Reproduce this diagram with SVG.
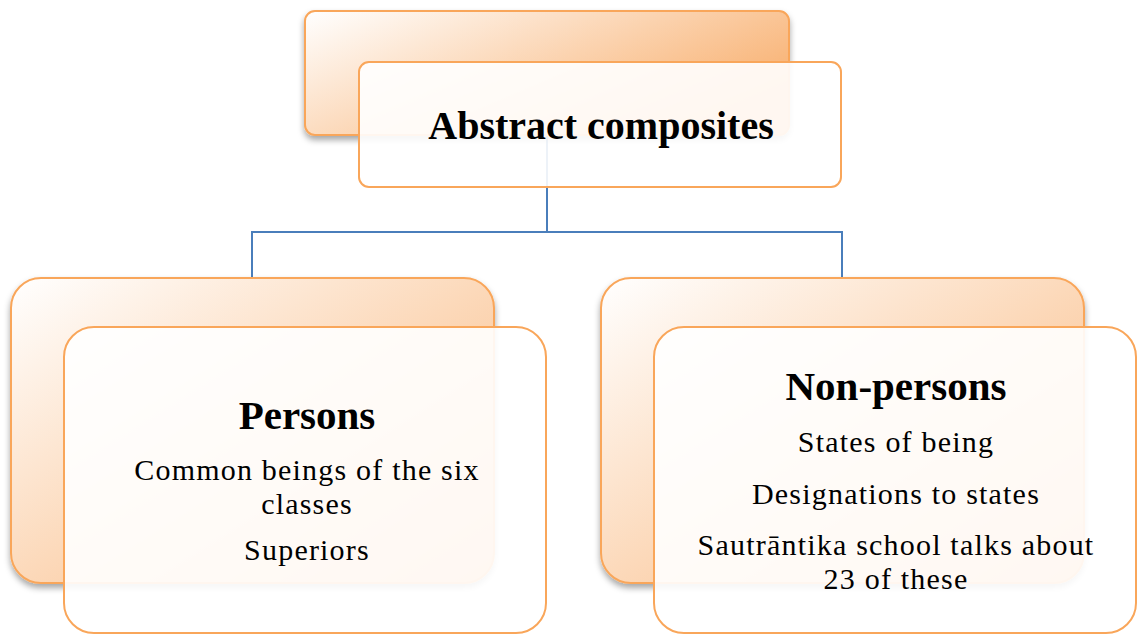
<svg xmlns="http://www.w3.org/2000/svg" width="1142" height="635" viewBox="0 0 1142 635">
<defs>
<linearGradient id="gTop" x1="0" y1="0" x2="1" y2="0.6">
<stop offset="0" stop-color="#ffffff"/>
<stop offset="1" stop-color="#f8b070"/>
</linearGradient>
<linearGradient id="gBot" x1="0" y1="0" x2="1" y2="1">
<stop offset="0" stop-color="#ffffff"/>
<stop offset="0.5" stop-color="#fcd9ba"/>
<stop offset="1" stop-color="#f8b47a"/>
</linearGradient>
<filter id="sh" x="-10%" y="-10%" width="120%" height="130%">
<feDropShadow dx="0" dy="4" stdDeviation="3" flood-color="#000" flood-opacity="0.35"/>
</filter>
</defs>
<style>
.back{stroke:#f9a65a;stroke-width:2;filter:url(#sh)}
.front{fill:#ffffff;fill-opacity:0.9;stroke:#f9a65a;stroke-width:2}
.conn{fill:none;stroke:#4a7ebb;stroke-width:2}
.title{font-family:"Liberation Serif","DejaVu Serif",serif;font-weight:bold;text-anchor:middle;fill:#000}
.body{font-family:"Liberation Serif","DejaVu Serif",serif;font-size:30px;letter-spacing:1.2px;text-anchor:middle;fill:#000}
</style>
<g id="connectors">
<path class="conn" d="M547 135 V232 M252 232 H842 M252 231 V278 M842 231 V278"/>
</g>
<g id="node-abstract">
<rect class="back" x="305" y="11" width="484" height="124" rx="10" fill="url(#gTop)"/>
<rect class="front" x="359" y="62" width="482" height="125" rx="10"/>
<text class="title" x="601" y="139" font-size="40">Abstract composites</text>
</g>
<g id="node-persons">
<rect class="back" x="11" y="278" width="483" height="305" rx="30" fill="url(#gBot)"/>
<rect class="front" x="64" y="327" width="482" height="306" rx="30"/>
<text class="title" x="307" y="429" font-size="41">Persons</text>
<text class="body" x="307" y="480">Common beings of the six</text>
<text class="body" x="307" y="514">classes</text>
<text class="body" x="307" y="560">Superiors</text>
</g>
<g id="node-nonpersons">
<rect class="back" x="601" y="278" width="483" height="305" rx="30" fill="url(#gBot)"/>
<rect class="front" x="654" y="327" width="482" height="306" rx="30"/>
<text class="title" x="896" y="400" font-size="41">Non-persons</text>
<text class="body" x="896" y="452">States of being</text>
<text class="body" x="896" y="504">Designations to states</text>
<text class="body" x="896" y="555">Sautrāntika school talks about</text>
<text class="body" x="896" y="589">23 of these</text>
</g>
</svg>
